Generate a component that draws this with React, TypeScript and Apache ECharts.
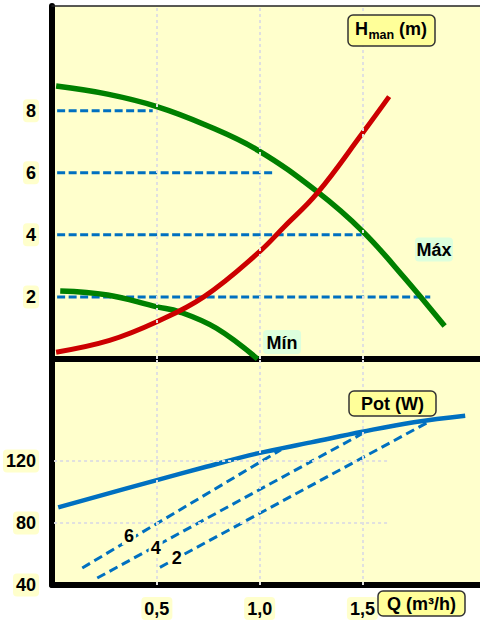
import React, { useEffect, useRef } from "react";
import * as echarts from "echarts";

// ---------- data ----------
// Upper panel: head H (m) vs flow Q (m3/h)
const Q_MAX = [0.01, 0.26, 0.5, 0.74, 0.99, 1.28, 1.5, 1.7, 1.9];
const H_MAX = [8.79, 8.53, 8.13, 7.53, 6.73, 5.39, 4.12, 2.65, 1.06];
const Q_MIN = [0.03, 0.26, 0.5, 0.61, 0.79, 0.99];
const H_MIN = [2.19, 2.06, 1.68, 1.52, 0.99, 0.0];
const Q_SYS = [0.01, 0.27, 0.5, 0.73, 0.99, 1.12, 1.28, 1.5, 1.63];
const H_SYS = [0.22, 0.6, 1.2, 2.01, 3.4, 4.26, 5.34, 7.27, 8.45];
const H_LEVELS = [8, 6, 4, 2];
const H_LEVEL_START = 0.015;
const H_LEVEL_END = [0.48, 1.075, 1.496, 1.83];
const CURVE_LABELS = ["Mín", "Máx"];
const CURVE_LABEL_POS = [
  [1.109, 0.55],
  [1.848, 3.53],
];

// Lower panel: power P (W) vs flow Q
const Q_POT = [0.02, 0.5, 0.74, 0.99, 1.25, 1.5, 1.75, 2.0];
const W_POT = [90.1, 107.7, 116.3, 124.9, 132.0, 138.9, 145.0, 149.2];
const POT_LINE_NAMES = ["6", "4", "2"];
const POT_LINE_START = [
  [0.137, 51.0],
  [0.21, 44.5],
  [0.515, 51.4],
];
const POT_LINE_END = [
  [1.104, 127.3],
  [1.496, 137.4],
  [1.812, 144.5],
];
const POT_LABEL_POS = [
  [0.364, 72.3],
  [0.494, 64.3],
  [0.597, 58.3],
];

// Axes / ticks
const Q_RANGE = [-0.01, 2.072];
const H_RANGE = [0, 11.37];
const W_RANGE = [40, 185.8];
const Q_TICKS = [0.5, 1.0, 1.5];
const H_TICKS = [2, 4, 6, 8];
const W_TICKS = [40, 80, 120];
const W_GRID = [80, 120];
const W_GRID_END = 1.634;

// ---------- styles ----------
const FONT = "Liberation Sans";
const FS = 18;
const BG = "#FFFFCC";
const BLUE = "#0070C0";
const GREEN = "#008000";
const RED = "#CC0000";
const GRIDLINE = "#E0E0E0";

const zip = (a: number[], b: number[]) => a.map((v, i) => [v, b[i]]);

const tickLabel = (margin: number) => ({
  show: true,
  color: "#000",
  fontFamily: FONT,
  fontWeight: "bold" as const,
  fontSize: FS,
  backgroundColor: BG,
  borderRadius: 4,
  padding: [3, 3, 2, 3],
  margin,
});

const txt = (text: string, x: number, y: number, size: number, align = "left") => ({
  type: "text",
  x,
  y,
  z: 100,
  style: {
    text,
    fontFamily: FONT,
    fontWeight: "bold",
    fontSize: size,
    fill: "#000",
    align,
    verticalAlign: "middle",
  },
});

const box = (x: number, y: number, w: number, h: number) => ({
  type: "rect",
  z: 99,
  shape: { x, y, width: w, height: h, r: 5 },
  style: { fill: "#FFFF99", stroke: "#333", lineWidth: 1.5 },
});

export default function App() {
  const ref = useRef<HTMLDivElement>(null);

  useEffect(() => {
    document.body.style.margin = "0";
    if (!ref.current) return;
    const chart = echarts.init(ref.current, undefined, { renderer: "svg" });

    const series: any[] = [];

    // upper grid dotted vertical gridlines
    series.push({
      type: "line",
      xAxisIndex: 0,
      yAxisIndex: 0,
      data: [],
      z: 1,
      markLine: {
        silent: true,
        symbol: ["none", "none"],
        label: { show: false },
        lineStyle: { type: [3, 3], color: GRIDLINE, width: 2 },
        data: Q_TICKS.map((q) => ({ xAxis: q })),
      },
    });

    // level dashed lines
    H_LEVELS.forEach((h, i) => {
      series.push({
        type: "line",
        xAxisIndex: 0,
        yAxisIndex: 0,
        z: 2,
        symbol: "none",
        data: [
          [H_LEVEL_START, h],
          [H_LEVEL_END[i], h],
        ],
        lineStyle: { color: BLUE, width: 3, type: [8, 3.5] },
      });
    });

    const curve = (q: number[], v: number[], color: string, width: number, z: number, xi: number, yi: number) => ({
      type: "line",
      xAxisIndex: xi,
      yAxisIndex: yi,
      z,
      symbol: "none",
      smooth: 0.4,
      data: zip(q, v),
      lineStyle: { color, width, cap: "butt" },
    });

    series.push(curve(Q_MIN, H_MIN, GREEN, 5.5, 3, 0, 0));
    series.push(curve(Q_MAX, H_MAX, GREEN, 5.5, 3, 0, 0));
    series.push(curve(Q_SYS, H_SYS, RED, 5, 4, 0, 0));

    // lower grid gridlines
    series.push({
      type: "line",
      xAxisIndex: 2,
      yAxisIndex: 1,
      data: [],
      z: 1,
      markLine: {
        silent: true,
        symbol: ["none", "none"],
        label: { show: false },
        lineStyle: { type: [3, 3], color: GRIDLINE, width: 2 },
        data: [
          ...Q_TICKS.map((q) => ({ xAxis: q })),
          ...W_GRID.map((w) => [{ coord: [0, w] }, { coord: [W_GRID_END, w] }]),
        ],
      },
    });

    POT_LINE_NAMES.forEach((_, i) => {
      series.push({
        type: "line",
        xAxisIndex: 2,
        yAxisIndex: 1,
        z: 2,
        symbol: "none",
        data: [POT_LINE_START[i], POT_LINE_END[i]],
        lineStyle: { color: BLUE, width: 3, type: [9, 5] },
      });
    });

    series.push(curve(Q_POT, W_POT, BLUE, 4.5, 3, 2, 1));

    const axisLineBlack = { onZero: false, lineStyle: { color: "#000", width: 6 } };

    const option: any = {
      animation: false,
      grid: [
        { left: 52, right: 0, top: 6, height: 353, show: true, backgroundColor: BG, borderWidth: 0 },
        { left: 52, right: 0, top: 359, height: 227, show: true, backgroundColor: BG, borderWidth: 0 },
      ],
      xAxis: [
        {
          type: "value",
          gridIndex: 0,
          min: Q_RANGE[0],
          max: Q_RANGE[1],
          axisLine: axisLineBlack,
          axisTick: { show: false },
          axisLabel: { show: false },
          splitLine: { show: false },
        },
        {
          type: "value",
          gridIndex: 0,
          position: "top",
          min: Q_RANGE[0],
          max: Q_RANGE[1],
          axisLine: { onZero: false, lineStyle: { color: "#222", width: 1.5 } },
          axisTick: { show: false },
          axisLabel: { show: false },
          splitLine: { show: false },
        },
        {
          type: "value",
          gridIndex: 1,
          min: Q_RANGE[0],
          max: Q_RANGE[1],
          axisLine: axisLineBlack,
          axisTick: { show: false },
          axisLabel: {
            ...tickLabel(12),
            customValues: Q_TICKS,
            formatter: (v: number) => v.toFixed(1).replace(".", ","),
          },
          splitLine: { show: false },
        },
      ],
      yAxis: [
        {
          type: "value",
          gridIndex: 0,
          min: H_RANGE[0],
          max: H_RANGE[1],
          axisLine: axisLineBlack,
          axisTick: { show: false },
          axisLabel: { ...tickLabel(13), customValues: H_TICKS, formatter: (v: number) => String(v) },
          splitLine: { show: false },
        },
        {
          type: "value",
          gridIndex: 1,
          min: W_RANGE[0],
          max: W_RANGE[1],
          axisLine: axisLineBlack,
          axisTick: { show: false },
          axisLabel: { ...tickLabel(13), customValues: W_TICKS, formatter: (v: number) => String(v) },
          splitLine: { show: false },
        },
      ],
      series,
    };

    chart.setOption(option);

    // annotations positioned through the axes' scales
    const top = (p: number[]) => chart.convertToPixel({ xAxisIndex: 0, yAxisIndex: 0 }, p) as number[];
    const bot = (p: number[]) => chart.convertToPixel({ xAxisIndex: 2, yAxisIndex: 1 }, p) as number[];

    const graphic: any[] = [];
    CURVE_LABEL_POS.forEach((p, i) => {
      const [x, y] = top(p);
      graphic.push({
        type: "rect",
        z: 98,
        shape: { x: x - 19, y: y - 12, width: 38, height: 24, r: 4 },
        style: { fill: "#DDFFDD" },
      });
      graphic.push(txt(CURVE_LABELS[i], x, y + 1, FS, "center"));
    });
    POT_LABEL_POS.forEach((p, i) => {
      const [x, y] = bot(p);
      graphic.push({
        type: "rect",
        z: 98,
        shape: { x: x - 7, y: y - 10, width: 14, height: 20 },
        style: { fill: BG },
      });
      graphic.push(txt(POT_LINE_NAMES[i], x, y + 1, FS, "center"));
    });

    // title boxes
    graphic.push(box(348, 15, 87, 31));
    graphic.push(txt("H", 355, 29, FS));
    graphic.push(txt("man", 368.5, 34.5, 12.5));
    graphic.push(txt("(m)", 399, 29, FS));
    graphic.push(box(349, 391, 87, 25));
    graphic.push(txt("Pot (W)", 392.5, 404, FS, "center"));
    graphic.push(box(378, 591, 87, 25));
    graphic.push(txt("Q (m³/h)", 421.5, 604, FS, "center"));

    chart.setOption({ graphic });
    return () => chart.dispose();
  }, []);

  return <div ref={ref} style={{ width: 480, height: 620 }} />;
}
